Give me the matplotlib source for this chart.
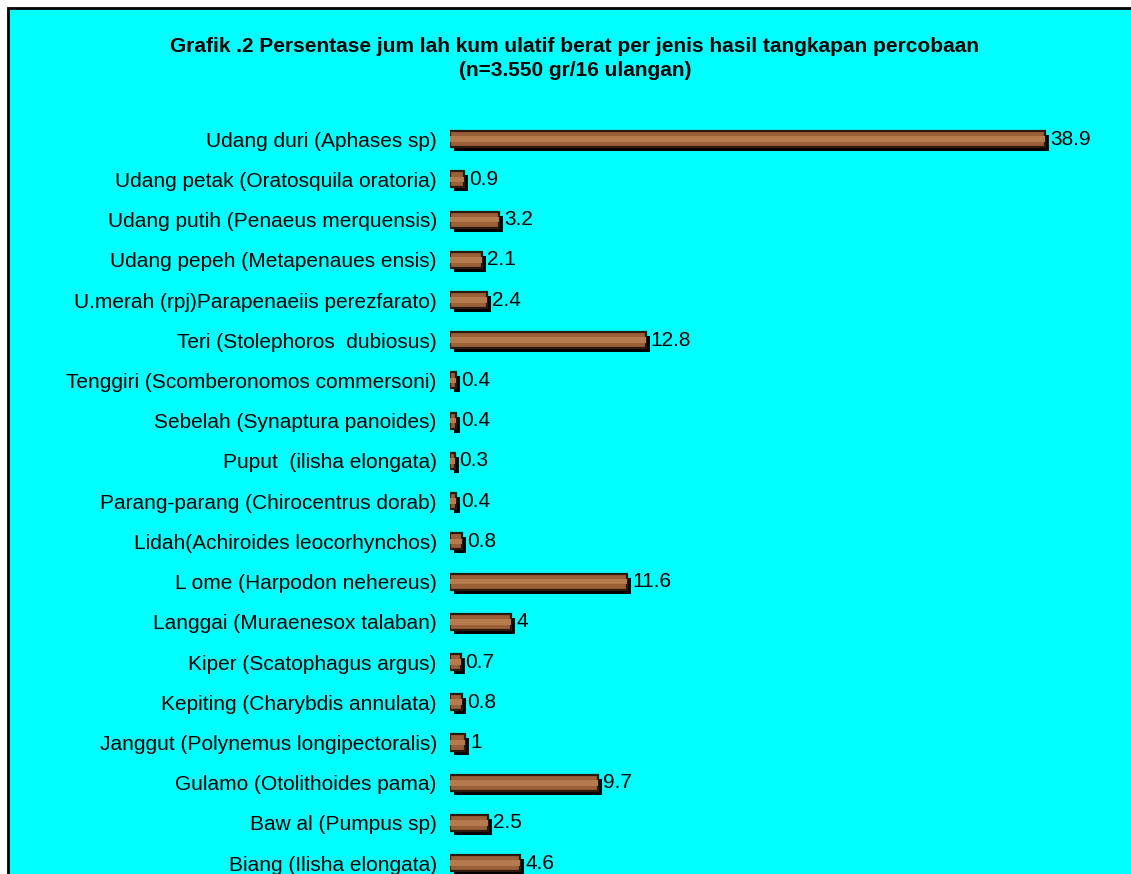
import matplotlib.pyplot as plt
import matplotlib.transforms as mtransforms
from matplotlib.patches import Rectangle

plt.rcParams['font.family'] = ['Liberation Sans', 'DejaVu Sans']

species = [
    "Udang duri (Aphases sp)",
    "Udang petak (Oratosquila oratoria)",
    "Udang putih (Penaeus merquensis)",
    "Udang pepeh (Metapenaues ensis)",
    "U.merah (rpj)Parapenaeiis perezfarato)",
    "Teri (Stolephoros  dubiosus)",
    "Tenggiri (Scomberonomos commersoni)",
    "Sebelah (Synaptura panoides)",
    "Puput  (ilisha elongata)",
    "Parang-parang (Chirocentrus dorab)",
    "Lidah(Achiroides leocorhynchos)",
    "L ome (Harpodon nehereus)",
    "Langgai (Muraenesox talaban)",
    "Kiper (Scatophagus argus)",
    "Kepiting (Charybdis annulata)",
    "Janggut (Polynemus longipectoralis)",
    "Gulamo (Otolithoides pama)",
    "Baw al (Pumpus sp)",
    "Biang (Ilisha elongata)",
]
percent = [38.9, 0.9, 3.2, 2.1, 2.4, 12.8, 0.4, 0.4, 0.3, 0.4,
           0.8, 11.6, 4, 0.7, 0.8, 1, 9.7, 2.5, 4.6]
value_labels = ["38.9", "0.9", "3.2", "2.1", "2.4", "12.8", "0.4", "0.4", "0.3", "0.4",
                "0.8", "11.6", "4", "0.7", "0.8", "1", "9.7", "2.5", "4.6"]

W, H = 1131, 874
fig = plt.figure(figsize=(W / 100, H / 100), dpi=100, facecolor='white')

# cyan chart area with black frame (runs off the right/bottom edge)
fig.patches.append(Rectangle((8 / W, -0.05), 1.1, 1 - 8 / H + 0.05,
                             transform=fig.transFigure, facecolor='#00ffff',
                             edgecolor='black', linewidth=2, zorder=-10))

fig.text(575 / W, 1 - 46 / H, "Grafik .2 Persentase jum lah kum ulatif berat per jenis hasil tangkapan percobaan",
         ha='center', va='center', fontsize=15, fontweight='bold')
fig.text(575 / W, 1 - 71 / H, "(n=3.550 gr/16 ulangan)",
         ha='center', va='center', fontsize=15, fontweight='bold')

ax = fig.add_axes([450 / W, 0, 1 - 450 / W, 1 - 119 / H])
ax.set_facecolor('none')
ax.set_xlim(0, (W - 450) / 15.3)
ax.set_ylim(18.27, -0.5)

pos = list(range(len(species)))

# drop shadow offset down-right
shadow = mtransforms.offset_copy(ax.transData, fig=fig, x=4, y=-4, units='dots')
ax.barh(pos, percent, height=0.4, color='black', transform=shadow, zorder=1)
ax.barh(pos, percent, height=0.4, color='#9c6038', edgecolor='#2e1a0c',
        linewidth=1.6, zorder=2)
# lighter streak across the wood grain
ax.barh(pos, percent, height=0.14, color='#b57a4e', linewidth=0, zorder=3)

for p, v, lab in zip(pos, percent, value_labels):
    ax.annotate(lab, (v, p), xytext=(3.5, 0), textcoords='offset points',
                ha='left', va='center', fontsize=15, zorder=4)

ax.set_yticks(pos)
ax.set_yticklabels(species, fontsize=15)
ax.tick_params(axis='y', length=0, pad=9.5)
ax.set_xticks([])
for s in ax.spines.values():
    s.set_visible(False)

fig.savefig("out.png", dpi=100, facecolor='white')
